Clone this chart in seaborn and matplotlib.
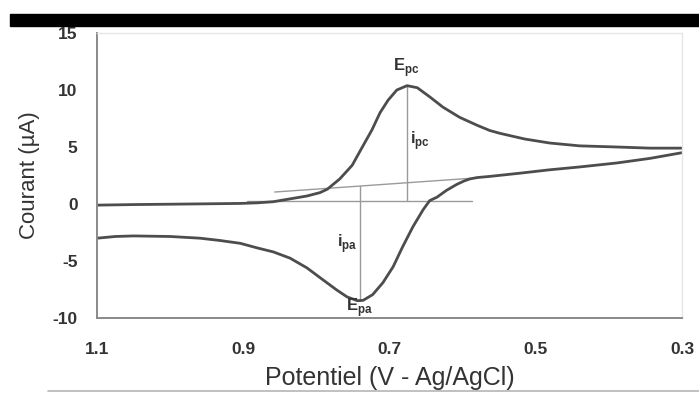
import numpy as np
import pandas as pd
import matplotlib
matplotlib.use("Agg")
import matplotlib.pyplot as plt
from matplotlib.patches import Rectangle
from matplotlib.lines import Line2D
import seaborn as sns

# Cathodic sweep (1.1 V -> 0.3 V)
fwd_potential = [1.100, 1.050, 0.973, 0.904, 0.881, 0.859, 0.836, 0.813, 0.795,
                 0.785, 0.768, 0.751, 0.738, 0.724, 0.713, 0.702, 0.690, 0.676,
                 0.662, 0.645, 0.627, 0.604, 0.580, 0.563, 0.549, 0.515, 0.481,
                 0.440, 0.389, 0.344, 0.300]
fwd_current = [-0.10, -0.05, 0.00, 0.05, 0.10, 0.20, 0.45, 0.70, 1.00,
               1.30, 2.20, 3.40, 4.90, 6.50, 8.00, 9.10, 10.00, 10.38,
               10.20, 9.40, 8.50, 7.60, 6.90, 6.45, 6.20, 5.70, 5.35,
               5.10, 5.00, 4.90, 4.90]

# Anodic sweep (0.3 V -> 1.1 V)
rev_potential = [0.300, 0.344, 0.389, 0.440, 0.481, 0.522, 0.563, 0.580, 0.590,
                 0.598, 0.608, 0.622, 0.635, 0.645, 0.654, 0.668, 0.682, 0.695,
                 0.709, 0.723, 0.736, 0.744, 0.758, 0.772, 0.791, 0.813, 0.836,
                 0.859, 0.881, 0.904, 0.932, 0.959, 1.000, 1.050, 1.075, 1.100]
rev_current = [4.50, 4.00, 3.60, 3.25, 3.00, 2.70, 2.42, 2.32, 2.20,
               2.02, 1.72, 1.20, 0.60, 0.30, -0.50, -2.00, -3.75, -5.50,
               -6.90, -7.95, -8.45, -8.48, -8.15, -7.55, -6.65, -5.60, -4.75,
               -4.20, -3.85, -3.45, -3.20, -3.00, -2.85, -2.80, -2.85, -3.00]

# Peak positions
E_pc, i_pc_top = 0.676, 10.38
E_pa, i_pa_bottom = 0.740, -8.48

# Baselines used to measure the peak currents
base_c_x = [0.895, 0.587]
base_c_y = [0.22, 0.22]
base_a_x = [0.857, 0.590]
base_a_y = [1.05, 2.25]

x_ticks = [1.1, 0.9, 0.7, 0.5, 0.3]
y_ticks = [-10, -5, 0, 5, 10, 15]

sns.set_style("white")
plt.rcParams["font.family"] = ["Liberation Sans", "DejaVu Sans"]

fig = plt.figure(figsize=(6.99, 3.93), dpi=100)
ax = fig.add_axes([97 / 699, 1 - 318 / 393, (682 - 97) / 699, (318 - 33) / 393])

df = pd.concat([
    pd.DataFrame({"E": fwd_potential, "I": fwd_current, "sweep": "cathodic"}),
    pd.DataFrame({"E": rev_potential, "I": rev_current, "sweep": "anodic"}),
])

curve_color = "#4d4d4d"
sns.lineplot(data=df, x="E", y="I", units="sweep", estimator=None, sort=False,
             color=curve_color, linewidth=2.0, ax=ax)
for ln in ax.get_lines():
    ln.set_solid_joinstyle("round")
    ln.set_solid_capstyle("round")

thin = dict(color="#9a9a9a", linewidth=1.0, zorder=1)
ax.plot(base_c_x, base_c_y, **thin)
ax.plot(base_a_x, base_a_y, **thin)
slope = (base_a_y[1] - base_a_y[0]) / (base_a_x[1] - base_a_x[0])
a_base_at_peak = base_a_y[0] + slope * (E_pa - base_a_x[0])
ax.plot([E_pc, E_pc], [base_c_y[0], i_pc_top], **thin)
ax.plot([E_pa, E_pa], [i_pa_bottom, a_base_at_peak], **thin)

lbl = dict(fontsize=12, fontweight="bold", color="#333333")
ax.text(E_pc + 0.001, 11.0, r"E$_{\mathregular{pc}}$", ha="center", va="bottom", **lbl)
ax.text(E_pc - 0.004, 5.6, r"i$_{\mathregular{pc}}$", ha="left", va="center", **lbl)
ax.text(E_pa + 0.004, -3.5, r"i$_{\mathregular{pa}}$", ha="right", va="center", **lbl)
ax.text(E_pa + 0.001, -10.1, r"E$_{\mathregular{pa}}$", ha="center", va="bottom", **lbl)

ax.set_xlim(1.1, 0.3)
ax.set_ylim(-10, 15)
ax.set_xticks(x_ticks)
ax.set_xticklabels([f"{t:.1f}" for t in x_ticks])
ax.set_yticks(y_ticks)
ax.set_yticklabels([str(t) for t in y_ticks])

for s in ["left", "bottom"]:
    ax.spines[s].set_color("#8a8a8a")
    ax.spines[s].set_linewidth(1.4)
for s in ["top", "right"]:
    ax.spines[s].set_color("#e6e6e6")
    ax.spines[s].set_linewidth(1.0)

ax.tick_params(axis="both", which="major", direction="out", colors="#8a8a8a",
               labelcolor="#333333", labelsize=12.5, length=6, width=1.0)
ax.tick_params(axis="x", pad=11)
ax.tick_params(axis="y", pad=8)
for t in ax.get_xticklabels() + ax.get_yticklabels():
    t.set_fontweight("bold")

ax.set_xlabel("Potentiel (V - Ag/AgCl)", fontsize=18, color="#333333", labelpad=7)
ax.set_ylabel("Courant (\u00b5A)", fontsize=16, color="#333333", labelpad=9)

# Dark band across the top and thin rule along the bottom
fig.add_artist(Rectangle((10 / 699, 1 - 26 / 393), 689 / 699, 12 / 393,
                         transform=fig.transFigure, color="black", zorder=5))
fig.add_artist(Line2D([48 / 699, 1.0], [1 - 391 / 393] * 2, transform=fig.transFigure,
                      color="#b5b5b5", linewidth=1.2))

fig.savefig("out.png", dpi=100)
